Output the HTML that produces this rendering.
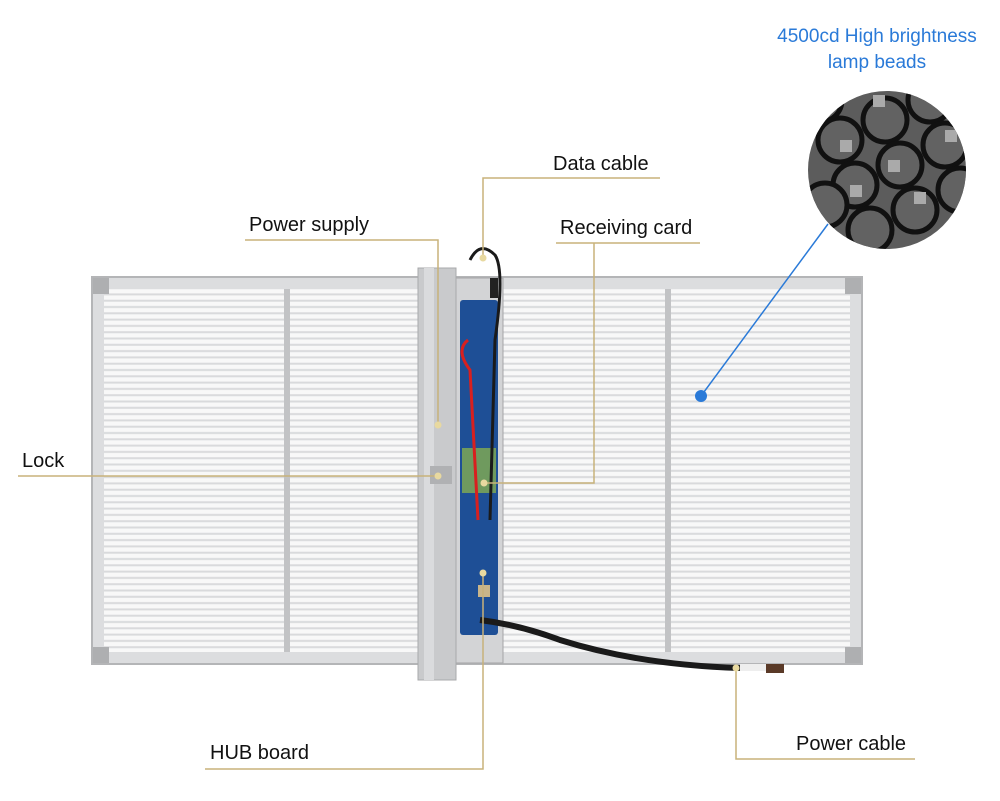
<!DOCTYPE html>
<html><head><meta charset="utf-8"><style>
html,body{margin:0;padding:0;background:#fff;}
svg{display:block}
text{font-family:"Liberation Sans","DejaVu Sans",sans-serif;}
</style></head><body>
<svg width="1000" height="801" viewBox="0 0 1000 801" xmlns="http://www.w3.org/2000/svg">
<defs>
<pattern id="str" x="0" y="0" width="10" height="6.3" patternUnits="userSpaceOnUse">
<rect width="10" height="6.3" fill="#f8f8f8"/>
<rect y="3.6" width="10" height="2" fill="#d9dadc"/>
</pattern>
<clipPath id="cc"><circle cx="887" cy="170" r="79"/></clipPath>
</defs>
<rect width="1000" height="801" fill="#fff"/>
<rect x="92" y="277" width="770" height="387" fill="#dcdddf" stroke="#b4b5b7" stroke-width="2"/>
<rect x="104" y="289" width="746" height="363" fill="url(#str)"/>
<rect x="284" y="289" width="6" height="363" fill="#c2c3c5"/>
<rect x="665" y="289" width="6" height="363" fill="#c2c3c5"/>
<rect x="93" y="278" width="16" height="16" fill="#aeafb1"/>
<rect x="845" y="278" width="16" height="16" fill="#aeafb1"/>
<rect x="93" y="647" width="16" height="16" fill="#aeafb1"/>
<rect x="845" y="647" width="16" height="16" fill="#aeafb1"/>
<rect x="455" y="278" width="48" height="385" fill="#d3d4d6" stroke="#a4a5a7"/>
<rect x="460" y="300" width="38" height="335" fill="#1e4f96" rx="3"/>
<rect x="462" y="448" width="34" height="45" fill="#6f9a5e"/>
<path d="M468 340 Q455 350 470 370 L478 520" stroke="#d8201f" stroke-width="3" fill="none"/>
<path d="M470 260 Q480 240 495 255 Q505 270 495 340 L490 520" stroke="#1a1a1a" stroke-width="3" fill="none"/>
<rect x="490" y="278" width="8" height="20" fill="#222"/>
<rect x="478" y="585" width="12" height="12" fill="#c9b58a"/>
<path d="M480 620 Q520 625 560 640 Q640 665 740 668" stroke="#1a1a1a" stroke-width="6" fill="none"/>
<rect x="740" y="664" width="28" height="7" fill="#eee"/>
<rect x="766" y="664" width="18" height="9" fill="#5a3a28"/>
<rect x="418" y="268" width="38" height="412" fill="#c9cacc" stroke="#a8a9ab"/>
<rect x="424" y="268" width="10" height="412" fill="#dadbdd"/>
<rect x="430" y="466" width="22" height="18" fill="#b0b1b3"/>
<g clip-path="url(#cc)">
<rect x="800" y="85" width="180" height="170" fill="#5c5c5c"/>
<g stroke="#111" stroke-width="5" fill="#626262">
<circle cx="840" cy="140" r="22"/><circle cx="885" cy="120" r="22"/><circle cx="930" cy="100" r="22"/>
<circle cx="855" cy="185" r="22"/><circle cx="900" cy="165" r="22"/><circle cx="945" cy="145" r="22"/>
<circle cx="870" cy="230" r="22"/><circle cx="915" cy="210" r="22"/><circle cx="960" cy="190" r="22"/>
<circle cx="825" cy="205" r="22"/><circle cx="820" cy="100" r="22"/>
</g>
<g fill="#aaa"><rect x="873" y="95" width="12" height="12"/><rect x="918" y="78" width="12" height="12"/><rect x="840" y="140" width="12" height="12"/><rect x="888" y="160" width="12" height="12"/><rect x="914" y="192" width="12" height="12"/><rect x="850" y="185" width="12" height="12"/><rect x="945" y="130" width="12" height="12"/></g>
</g>
<g stroke="#c8b27a" stroke-width="1.5" fill="none">
<path d="M660 178 H483 V258"/>
<path d="M245 240 H438 V425"/>
<path d="M556 243 H700 M594 243 V483 H484"/>
<path d="M18 476 H438"/>
<path d="M205 769 H483 V573"/>
<path d="M736 668 V759 H915"/>
</g>
<g fill="#e8d9a0">
<circle cx="483" cy="258" r="3.5"/><circle cx="438" cy="425" r="3.5"/><circle cx="484" cy="483" r="3.5"/>
<circle cx="438" cy="476" r="3.5"/><circle cx="483" cy="573" r="3.5"/><circle cx="736" cy="668" r="3.5"/>
</g>
<line x1="701" y1="396" x2="828" y2="224" stroke="#2a7ad8" stroke-width="1.5"/>
<circle cx="701" cy="396" r="6" fill="#2a7ad8"/>
<g font-size="20" fill="#111">
<text x="553" y="170">Data cable</text>
<text x="249" y="231">Power supply</text>
<text x="560" y="234">Receiving card</text>
<text x="22" y="467">Lock</text>
<text x="210" y="759">HUB board</text>
<text x="796" y="750">Power cable</text>
</g>
<g font-size="19" fill="#2a7ad8" text-anchor="middle">
<text x="877" y="42">4500cd High brightness</text>
<text x="877" y="68">lamp beads</text>
</g>
</svg>
</body></html>
